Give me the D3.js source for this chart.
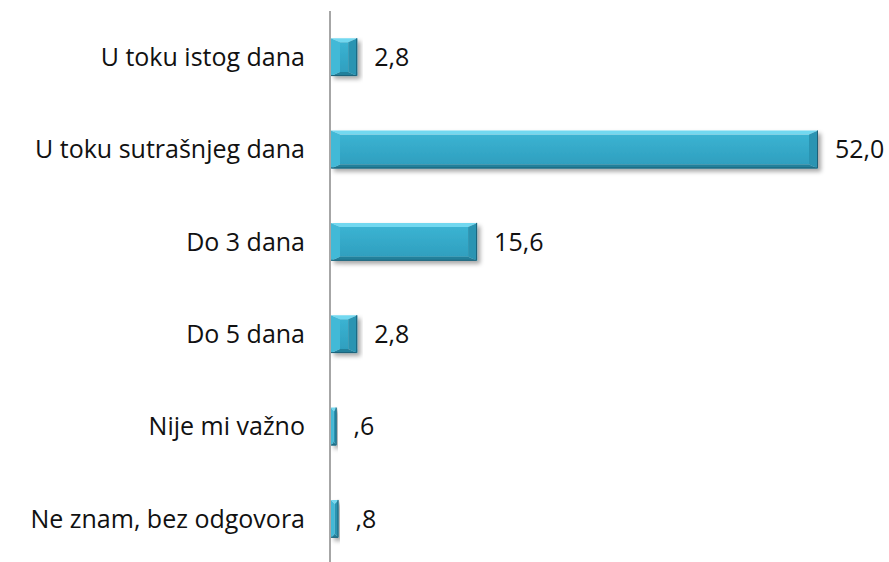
<!doctype html>
<html>
  <head>
    <meta charset="utf-8">
    <script src="https://cdnjs.cloudflare.com/ajax/libs/d3/7.8.5/d3.min.js"></script>
    <style>
      body { margin: 0; background: #fff; }
      svg { display: block; }
      .label { font-family: "Open Sans", Lato, sans-serif; font-size: 25px; fill: #111; }
      .axis-line { stroke: #a6a6a6; stroke-width: 2px; }
    </style>
  </head>
  <body>
    <svg width="889" height="562"></svg>
    <script>
      var categories = ["U toku istog dana", "U toku sutrašnjeg dana", "Do 3 dana",
                        "Do 5 dana", "Nije mi važno", "Ne znam, bez odgovora"];
      var values = [2.8, 52.0, 15.6, 2.8, 0.6, 0.8];

      var data = categories.map((c, i) => ({ cat: c, value: values[i] }));

      var svg = d3.select("svg");

      // shadow under the bars
      var defs = svg.append("defs");
      defs.append("filter")
          .attr("id", "shadow")
          .attr("x", "-10%").attr("y", "-20%")
          .attr("width", "130%").attr("height", "160%")
        .append("feDropShadow")
          .attr("dx", 3).attr("dy", 3)
          .attr("stdDeviation", 2)
          .attr("flood-color", "#000")
          .attr("flood-opacity", 0.35);

      // face gradient, a little lighter at the top
      var grad = defs.append("linearGradient")
          .attr("id", "face").attr("x1", 0).attr("x2", 0).attr("y1", 0).attr("y2", 1);
      grad.append("stop").attr("offset", "0%").attr("stop-color", "#3bb3d2");
      grad.append("stop").attr("offset", "100%").attr("stop-color", "#2f9fbf");

      var x = d3.scaleLinear().domain([0, 52]).range([331, 818]);
      var y = d3.scaleBand().domain(categories).range([11, 565]).paddingInner(0.59).paddingOuter(0.295);

      var fmt = v => v.toFixed(1).replace(".", ",").replace(/^0/, "");

      var bars = svg.append("g").selectAll("g.bar")
          .data(data)
          .enter()
        .append("g")
          .attr("class", "bar")
          .attr("filter", "url(#shadow)");

      bars.each(function(d) {
        var g = d3.select(this);
        var x0 = x(0), x1 = x(d.value);
        var y0 = y(d.cat), y1 = y0 + y.bandwidth();
        var w = x1 - x0;
        var bx = Math.min(9, w / 2), by = 4;
        var pts = a => a.map(p => p.join(",")).join(" ");
        // face
        g.append("rect")
          .attr("x", x0 + bx).attr("y", y0 + by)
          .attr("width", Math.max(0, w - 2 * bx)).attr("height", y1 - y0 - 2 * by)
          .attr("fill", "url(#face)");
        // top bevel
        g.append("polygon")
          .attr("points", pts([[x0, y0], [x1, y0], [x1 - bx, y0 + by], [x0 + bx, y0 + by]]))
          .attr("fill", "#72d8f0");
        // bottom bevel
        g.append("polygon")
          .attr("points", pts([[x0, y1], [x1, y1], [x1 - bx, y1 - by], [x0 + bx, y1 - by]]))
          .attr("fill", "#23809b");
        // left bevel
        g.append("polygon")
          .attr("points", pts([[x0, y0], [x0 + bx, y0 + by], [x0 + bx, y1 - by], [x0, y1]]))
          .attr("fill", "#42b9d7");
        // right bevel
        g.append("polygon")
          .attr("points", pts([[x1, y0], [x1 - bx, y0 + by], [x1 - bx, y1 - by], [x1, y1]]))
          .attr("fill", "#2b94b2");
        // dark outline at the bottom and right
        g.append("path")
          .attr("d", "M" + x0 + "," + (y1 - 0.5) + "H" + (x1 - 0.5) + "V" + y0)
          .attr("fill", "none")
          .attr("stroke", "#1b6178")
          .attr("stroke-width", 1);
      });

      // vertical axis line
      svg.append("line")
          .attr("class", "axis-line")
          .attr("x1", x(0) - 1).attr("x2", x(0) - 1)
          .attr("y1", y.range()[0]).attr("y2", y.range()[1]);

      // category labels
      svg.append("g").selectAll("text")
          .data(data)
          .enter()
        .append("text")
          .attr("class", "label")
          .attr("x", 305)
          .attr("y", d => y(d.cat) + y.bandwidth() / 2)
          .attr("dy", "0.35em")
          .attr("text-anchor", "end")
          .text(d => d.cat);

      // value labels
      svg.append("g").selectAll("text")
          .data(data)
          .enter()
        .append("text")
          .attr("class", "label")
          .attr("x", d => x(d.value) + 17)
          .attr("y", d => y(d.cat) + y.bandwidth() / 2)
          .attr("dy", "0.35em")
          .text(d => fmt(d.value));
    </script>
  </body>
</html>
